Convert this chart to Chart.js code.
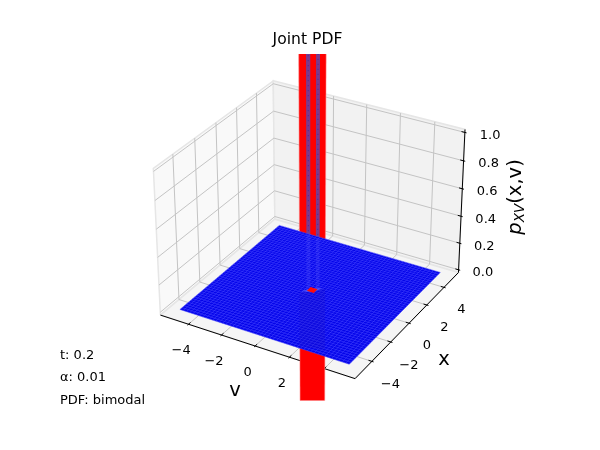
<!DOCTYPE html>
<html>
<head>
<meta charset="utf-8">
<title>Joint PDF</title>
<script src="https://cdn.jsdelivr.net/npm/chart.js@4/dist/chart.umd.js"></script>
<style>
  body { margin: 0; background: #fff; }
  canvas { display: block; }
</style>
</head>
<body>
<canvas id="chart" width="600" height="450"></canvas>
<script>
// ====== DATA ======
const vTicks = [-4, -2, 0, 2, 4];
const xTicks = [-4, -2, 0, 2, 4];
const zTicks = [0, 0.2, 0.4, 0.6, 0.8, 1];
const vTickLabels = ['\u22124', '\u22122', '0', '2', '4'];
const xTickLabels = ['\u22124', '\u22122', '0', '2', '4'];
const zTickLabels = ['0.0', '0.2', '0.4', '0.6', '0.8', '1.0'];
const vLimits = [-5.729, 5.729];
const xLimits = [-5.729, 5.729];
const zLimits = [-0.0208, 1.0208];

// mesh of the surface, flat everywhere except the peaks at the centre
const meshLines = [-5, -4.8, -4.6, -4.4, -4.2, -4, -3.8, -3.6, -3.4, -3.2, -3, -2.8, -2.6, -2.4, -2.2, -2,
  -1.8, -1.6, -1.4, -1.2, -1, -0.8, -0.6, -0.4, -0.2, 0, 0.2, 0.4, 0.6, 0.8, 1, 1.2, 1.4, 1.6, 1.8, 2,
  2.2, 2.4, 2.6, 2.8, 3, 3.2, 3.4, 3.6, 3.8, 4, 4.2, 4.4, 4.6, 4.8, 5];
const surfaceLevel = 0;

// the spike runs out of the axes at both ends
const spikeEdges = [-0.48, 0.5];
const spikeHeights = [-1.5, 2.5];
const stripeLeft = [-0.22, -0.065];
const stripeRight = [0.14, 0.28];
const stripeHeights = [0, 2.5];
const stripeBackHeights = [0.42, 0.38];
const spikeFrontHeights = [-0.41, -0.47];
const blobV = [-0.2, 0.22, 0.2, -0.22];
const blobX = [-0.2, -0.22, 0.2, 0.22];
const blobLevel = 0.005;
const haloV = [-0.42, 0.15, 0.42, -0.15];
const haloX = [-0.42, -0.15, 0.42, 0.15];

const notes = ['t: 0.2', '\u03b1: 0.01', 'PDF: bimodal'];

// ====== PROJECTION (same camera as a default 3D view) ======
const elev = 30 * Math.PI / 180;
const azim = -60 * Math.PI / 180;
const dist = 10;
const box = [1.1905, 1.1905, 0.8929];
const center = [box[0] / 2, box[1] / 2, box[2] / 2];
const camW = [Math.cos(elev) * Math.cos(azim), Math.cos(elev) * Math.sin(azim), Math.sin(elev)];
const camU = [-camW[1] / Math.hypot(camW[0], camW[1]), camW[0] / Math.hypot(camW[0], camW[1]), 0];
const camV = [
  camW[1] * camU[2] - camW[2] * camU[1],
  camW[2] * camU[0] - camW[0] * camU[2],
  camW[0] * camU[1] - camW[1] * camU[0]
];

function dot(a, b) {
  return a[0] * b[0] + a[1] * b[1] + a[2] * b[2];
}

function project(v, x, z) {
  const d = [
    (v - vLimits[0]) / (vLimits[1] - vLimits[0]) * box[0] - center[0],
    (x - xLimits[0]) / (xLimits[1] - xLimits[0]) * box[1] - center[1],
    (z - zLimits[0]) / (zLimits[1] - zLimits[0]) * box[2] - center[2]
  ];
  const depth = dist - dot(camW, d);
  return { x: dot(camU, d) / depth, y: dot(camV, d) / depth };
}

// ====== DATASETS (pushed back to front) ======
const layers = [];

function addShape(corners, color, borderColor, borderWidth) {
  const pts = corners.map(c => project(c[0], c[1], c[2]));
  pts.push(pts[0]);
  layers.push({
    data: pts, showLine: true, pointRadius: 0, fill: 'shape',
    backgroundColor: color, borderColor: borderColor || color, borderWidth: borderWidth || 0
  });
}

function addLine(corners, color, width, dash) {
  layers.push({
    data: corners.map(c => project(c[0], c[1], c[2])), showLine: true, pointRadius: 0, fill: false,
    borderColor: color, borderWidth: width, borderDash: dash || []
  });
}

const vMin = vLimits[0], vMax = vLimits[1];
const xMin = xLimits[0], xMax = xLimits[1];
const zMin = zLimits[0], zMax = zLimits[1];
const tickIn = 0.191, tickOut = 0.0955;
const gridColor = '#c4c4c4';

// panes
addShape([[vMin, xMin, zMin], [vMin, xMax, zMin], [vMin, xMax, zMax], [vMin, xMin, zMax]], '#f9f9f9', '#e6e6e6', 1.5);
addShape([[vMin, xMax, zMin], [vMax, xMax, zMin], [vMax, xMax, zMax], [vMin, xMax, zMax]], '#f2f2f2', '#e6e6e6', 1.5);
addShape([[vMin, xMin, zMin], [vMax, xMin, zMin], [vMax, xMax, zMin], [vMin, xMax, zMin]], '#f5f5f5', '#e6e6e6', 1.5);

// grid
vTicks.forEach(t => addLine([[t, xMin, zMin], [t, xMax, zMin], [t, xMax, zMax]], gridColor, 1));
xTicks.forEach(t => addLine([[vMax, t, zMin], [vMin, t, zMin], [vMin, t, zMax]], gridColor, 1));
zTicks.forEach(t => addLine([[vMin, xMin, t], [vMin, xMax, t], [vMax, xMax, t]], gridColor, 1));

// axis lines and tick marks
addLine([[vMin, xMin, zMin], [vMax, xMin, zMin]], '#000', 1);
addLine([[vMax, xMin, zMin], [vMax, xMax, zMin]], '#000', 1);
addLine([[vMax, xMax, zMin], [vMax, xMax, zMax]], '#000', 1);
vTicks.forEach(t => addLine([[t, xMin + tickIn, zMin], [t, xMin - tickOut, zMin]], '#000', 1));
xTicks.forEach(t => addLine([[vMax - tickIn, t, zMin], [vMax + tickOut, t, zMin]], '#000', 1));
zTicks.forEach(t => addLine([[vMax - tickIn, xMax, t], [vMax + tickOut, xMax, t]], '#000', 1));

// spike behind the surface
function spikeBand(edges, heights, color, borderColor, borderWidth) {
  addShape([
    [edges[0], edges[0], heights[0]], [edges[1], edges[1], heights[0]],
    [edges[1], edges[1], heights[1]], [edges[0], edges[0], heights[1]]
  ], color, borderColor, borderWidth);
}
spikeBand(spikeEdges, spikeHeights, '#ff0000', 'rgba(255,130,130,0.55)', 1);
spikeBand(stripeLeft, stripeHeights, '#7b3a8c');
spikeBand(stripeRight, stripeHeights, '#7b3a8c');
[stripeLeft, stripeRight].forEach(s => {
  const mid = (s[0] + s[1]) / 2;
  addLine([[mid, mid, stripeHeights[0]], [mid, mid, stripeHeights[1]]], '#4a2a9a', 1, [1, 4]);
});

// surface
addShape([
  [meshLines[0], meshLines[0], surfaceLevel], [meshLines[50], meshLines[0], surfaceLevel],
  [meshLines[50], meshLines[50], surfaceLevel], [meshLines[0], meshLines[50], surfaceLevel]
], '#0404ea');
meshLines.forEach(m => {
  addLine([[m, meshLines[0], surfaceLevel], [m, meshLines[50], surfaceLevel]], 'rgba(70,70,255,0.75)', 0.7);
  addLine([[meshLines[0], m, surfaceLevel], [meshLines[50], m, surfaceLevel]], 'rgba(70,70,255,0.75)', 0.7);
});

// what shows of the spike through the surface
[stripeLeft, stripeRight].forEach((s, i) => {
  spikeBand(s, [surfaceLevel, stripeBackHeights[i]], 'rgba(120,120,255,0.16)');
});
addShape([
  [spikeEdges[0], spikeEdges[0], surfaceLevel], [spikeEdges[1], spikeEdges[1], surfaceLevel],
  [spikeEdges[1], spikeEdges[1], spikeFrontHeights[1]], [spikeEdges[0], spikeEdges[0], spikeFrontHeights[0]]
], 'rgba(30,20,190,0.25)');
addShape(haloV.map((v, i) => [v, haloX[i], blobLevel]), 'rgba(150,150,255,0.4)');
addShape(blobV.map((v, i) => [v, blobX[i], blobLevel]), '#ff0a0a');

// ====== TEXT DRAWN AT PROJECTED POSITIONS ======
const font = '"DejaVu Sans", sans-serif';

function drawAt(chart, text, p, size) {
  const ctx = chart.ctx;
  ctx.font = size + 'px ' + font;
  ctx.fillStyle = '#000';
  ctx.textAlign = 'center';
  ctx.textBaseline = 'middle';
  ctx.fillText(text, chart.scales.x.getPixelForValue(p.x), chart.scales.y.getPixelForValue(p.y));
}

const axisText = {
  id: 'axisText',
  // tick labels sit under the spike
  beforeDatasetsDraw(chart) {
    vTicks.forEach((t, i) => drawAt(chart, vTickLabels[i], project(t, xMin - 0.76, zMin - 0.14), 13));
    xTicks.forEach((t, i) => drawAt(chart, xTickLabels[i], project(vMax + 1.06, t, zMin - 0.127), 13));
    zTicks.forEach((t, i) => drawAt(chart, zTickLabels[i], project(vMax + 1.26, xMax + 0.36, t), 13));
  },
  afterDraw(chart) {
    const ctx = chart.ctx;
    ctx.save();
    ctx.fillStyle = '#000';
    ctx.textBaseline = 'middle';
    ctx.textAlign = 'center';
    ctx.font = '19.5px ' + font;
    ctx.fillText('v', 235, 391);
    ctx.fillText('x', 444, 360);

    // z label: p with subscript XV, then (x,v), turned a quarter
    ctx.save();
    ctx.translate(514, 197);
    ctx.rotate(-Math.PI / 2);
    ctx.textAlign = 'left';
    ctx.textBaseline = 'alphabetic';
    const parts = [
      ['p', 'italic 19.5px ' + font, 0],
      ['XV', 'italic 13.6px ' + font, 3],
      ['(x,v)', '19.5px ' + font, 0]
    ];
    let total = 0;
    parts.forEach(p => { ctx.font = p[1]; total += ctx.measureText(p[0]).width; });
    let at = -total / 2;
    parts.forEach(p => {
      ctx.font = p[1];
      ctx.fillText(p[0], at, 7 + p[2]);
      at += ctx.measureText(p[0]).width;
    });
    ctx.restore();

    ctx.textAlign = 'left';
    ctx.font = '13px ' + font;
    ctx.fillText(notes[0], 60, 355.5);
    ctx.fillText(notes[1], 60, 378);
    ctx.fillText(notes[2], 60, 400.5);
    ctx.restore();
  }
};

// ====== CHART ======
new Chart(document.getElementById('chart'), {
  type: 'scatter',
  data: { datasets: layers.reverse() }, // first dataset is painted last
  plugins: [axisText],
  options: {
    responsive: false,
    animation: false,
    events: [],
    layout: { padding: { left: 134.25, right: 119.25, top: 30.65, bottom: 49.5 } },
    scales: {
      x: { type: 'linear', display: false, min: -0.095, max: 0.09 },
      y: { type: 'linear', display: false, min: -0.095, max: 0.09 }
    },
    plugins: {
      legend: { display: false },
      tooltip: { enabled: false },
      title: {
        display: true,
        text: 'Joint PDF',
        color: '#000',
        font: { family: font, size: 15.6, weight: 'normal' },
        padding: { top: 0, bottom: 4.65 }
      }
    }
  }
});
</script>
</body>
</html>
